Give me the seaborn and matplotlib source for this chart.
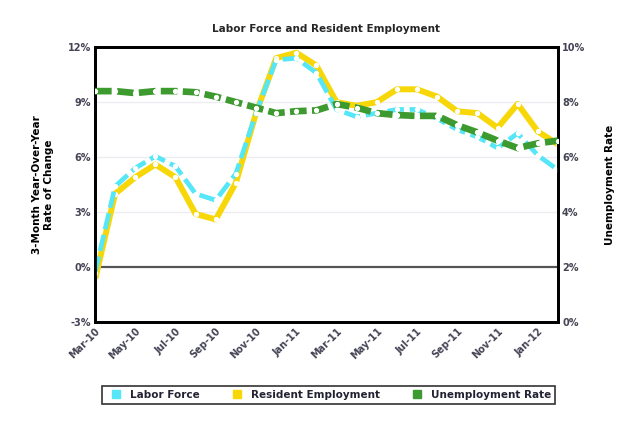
import pandas as pd
import numpy as np
import matplotlib.pyplot as plt
import seaborn as sns
from matplotlib.lines import Line2D

sns.set_theme(style="white")
plt.rcParams['font.family'] = ['DejaVu Sans']

# Chart data
months = ['Mar-10', 'Apr-10', 'May-10', 'Jun-10', 'Jul-10', 'Aug-10', 'Sep-10', 'Oct-10',
          'Nov-10', 'Dec-10', 'Jan-11', 'Feb-11', 'Mar-11', 'Apr-11', 'May-11', 'Jun-11',
          'Jul-11', 'Aug-11', 'Sep-11', 'Oct-11', 'Nov-11', 'Dec-11', 'Jan-12', 'Feb-12']
labor_force = [-0.3, 4.4, 5.4, 6.05, 5.5, 4.0, 3.65, 5.1, 8.4, 11.3, 11.4, 10.6,
               8.6, 8.2, 8.4, 8.6, 8.6, 8.1, 7.5, 7.1, 6.5, 7.3, 6.1, 5.3]
resident_employment = [-0.7, 4.0, 4.9, 5.6, 4.9, 2.9, 2.6, 4.6, 8.4, 11.4, 11.7, 11.0,
                       9.0, 8.8, 9.0, 9.7, 9.7, 9.3, 8.5, 8.4, 7.6, 8.9, 7.4, 6.7]
unemployment_rate = [8.4, 8.4, 8.33, 8.4, 8.4, 8.36, 8.2, 8.0, 7.8, 7.6, 7.67, 7.7,
                     7.93, 7.8, 7.6, 7.53, 7.5, 7.5, 7.16, 6.9, 6.6, 6.33, 6.5, 6.6]

left_ticks = [-3, 0, 3, 6, 9, 12]
right_ticks = [0, 2, 4, 6, 8, 10]

c_lf = '#55E6F7'
c_re = '#F7D708'
c_ur = '#3C9A2E'

df = pd.DataFrame({
    'idx': np.arange(len(months)),
    'Labor Force': labor_force,
    'Resident Employment': resident_employment,
    'Unemployment Rate': unemployment_rate,
})

fig = plt.figure(figsize=(6.29, 4.21), dpi=100)
ax = fig.add_axes([0.151, 0.235, 0.736, 0.653])
ax2 = ax.twinx()

mk = dict(marker='o', markersize=3.0, markerfacecolor='white', markeredgecolor='white')
sns.lineplot(data=df, x='idx', y='Labor Force', ax=ax, color=c_lf, linewidth=3.4,
             linestyle=(0, (3.5, 1.2)), zorder=3, **mk)
sns.lineplot(data=df, x='idx', y='Resident Employment', ax=ax, color=c_re, linewidth=4.3,
             zorder=2, **mk)
sns.lineplot(data=df, x='idx', y='Unemployment Rate', ax=ax2, color=c_ur, linewidth=4.8,
             linestyle=(0, (2.5, 0.8)), zorder=4, **mk)

ax.set_ylim(-3, 12)
ax2.set_ylim(0, 10)
ax.set_xlim(0, len(months) - 1)
ax.set_yticks(left_ticks)
ax.set_yticklabels([f'{t}%' for t in left_ticks])
ax2.set_yticks(right_ticks)
ax2.set_yticklabels([f'{t}%' for t in right_ticks])
ax.set_xticks(np.arange(0, len(months), 2))
ax.set_xticklabels(months[::2], rotation=45, ha='right', rotation_mode='anchor')

for t in left_ticks:
    if t not in (-3, 0, 12):
        ax.axhline(t, color='#ECECF2', linewidth=1, zorder=0)
ax.axhline(0, color='#555555', linewidth=1.6, zorder=1)

for a in (ax, ax2):
    a.tick_params(axis='both', labelsize=7, colors='#333344', length=0, pad=3)
    for s in a.spines.values():
        s.set_color('black')
        s.set_linewidth(2)
for lab in ax.get_xticklabels() + ax.get_yticklabels() + ax2.get_yticklabels():
    lab.set_fontweight('bold')
    lab.set_color('#444455')

ax.set_xlabel('')
ax.set_ylabel('3-Month Year-Over-Year\nRate of Change', fontsize=7.5, fontweight='bold',
              labelpad=10, color='black')
ax2.set_ylabel('Unemployment Rate', fontsize=7.5, fontweight='bold', labelpad=14, color='black')
ax.set_title('Labor Force and Resident Employment', fontsize=7.5, fontweight='bold', pad=11)

handles = [Line2D([], [], marker='s', linestyle='none', markersize=6, color=c)
           for c in (c_lf, c_re, c_ur)]
leg = fig.legend(handles, ['Labor Force', 'Resident Employment', 'Unemployment Rate'],
                 loc='center', bbox_to_anchor=(0.522, 0.062), ncol=3, fontsize=7.5,
                 frameon=True, fancybox=False, handletextpad=0.3, columnspacing=2.6,
                 borderpad=0.35)
leg.get_frame().set_edgecolor('black')
leg.get_frame().set_linewidth(1.2)
for t in leg.get_texts():
    t.set_fontweight('bold')
    t.set_color('#222233')

fig.savefig('out.png', dpi=100)
